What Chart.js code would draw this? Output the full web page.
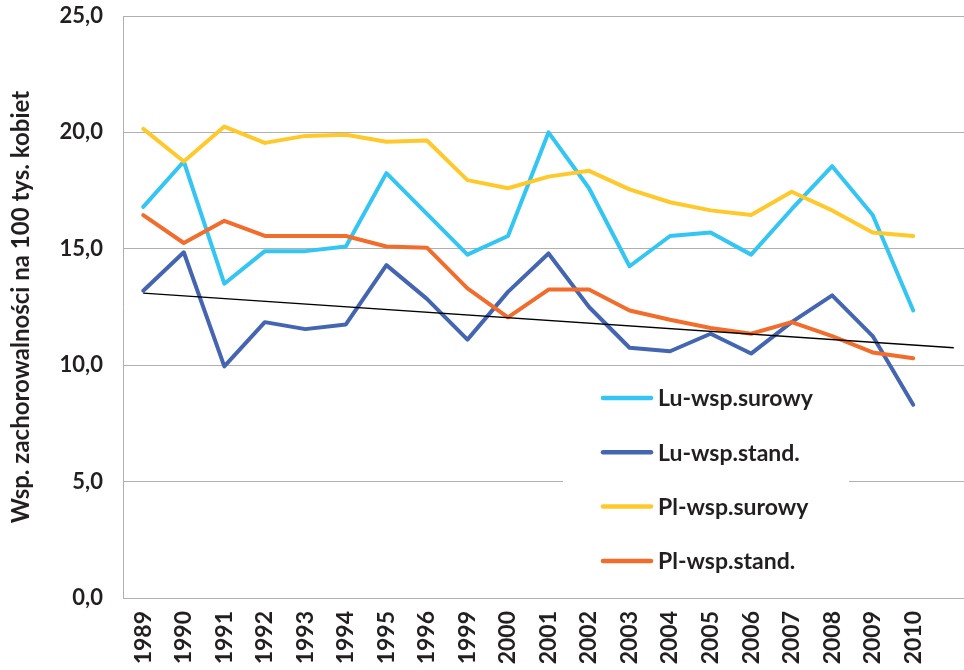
<!DOCTYPE html>
<html lang="pl">
<head>
<meta charset="utf-8">
<title>Wsp. zachorowalności</title>
<script src="https://cdn.jsdelivr.net/npm/chart.js@4.4.1/dist/chart.umd.min.js"></script>
<style>
    html, body { margin: 0; padding: 0; background: #fff; overflow: hidden; }
    #chart { display: block; }
</style>
</head>
<body>
<canvas id="chart" width="980" height="670"></canvas>
<script>
// years on the x axis (1997 and 1998 are missing), plus one empty slot for the trend
const years = ['1989', '1990', '1991', '1992', '1993', '1994', '1995', '1996', '1999', '2000',
    '2001', '2002', '2003', '2004', '2005', '2006', '2007', '2008', '2009', '2010', ''];

const luRaw = [16.8, 18.75, 13.5, 14.9, 14.9, 15.1, 18.25, 16.5, 14.75, 15.55,
    20.0, 17.6, 14.25, 15.55, 15.7, 14.75, 16.7, 18.55, 16.45, 12.35];
const luStd = [13.2, 14.85, 9.95, 11.85, 11.55, 11.75, 14.3, 12.85, 11.1, 13.15,
    14.8, 12.5, 10.75, 10.6, 11.35, 10.5, 11.85, 13.0, 11.25, 8.3];
const plRaw = [20.15, 18.75, 20.25, 19.55, 19.85, 19.9, 19.6, 19.65, 17.95, 17.6,
    18.1, 18.35, 17.55, 17.0, 16.65, 16.45, 17.45, 16.65, 15.7, 15.55];
const plStd = [16.45, 15.25, 16.2, 15.55, 15.55, 15.55, 15.1, 15.05, 13.3, 12.05,
    13.25, 13.25, 12.35, 11.95, 11.6, 11.35, 11.85, 11.25, 10.55, 10.3];

// linear trend of Lu-wsp.stand.: start and end values only
const trendStart = 13.1;
const trendEnd = 10.75;
const trend = years.map((y, i) => i === 0 ? trendStart : (i === years.length - 1 ? trendEnd : null));

const yTicks = [0, 5, 10, 15, 20, 25];

const FONT = 'Lato, "Open Sans", sans-serif';
const TEXT = '#231f20';
const GRID = '#b0b0b0';

function series(label, data, color, order) {
    return {
        label,
        data,
        borderColor: color,
        backgroundColor: color,
        borderWidth: 4,
        pointRadius: 0,
        pointHoverRadius: 0,
        tension: 0,
        borderJoinStyle: 'round',
        borderCapStyle: 'round',
        fill: false,
        order
    };
}

// scale edges are placed by layout.padding only
function noEdgePadding(s) {
    s.paddingTop = 0;
    s.paddingBottom = 0;
    s.paddingLeft = 0;
    s.paddingRight = 0;
}

// legend box drawn inside the plot area, bottom right
const insideLegend = {
    id: 'insideLegend',
    afterDatasetsDraw(chart) {
        const ctx = chart.ctx;
        const items = chart.data.datasets.filter(d => !d.isTrend);
        ctx.save();
        ctx.fillStyle = '#fff';
        ctx.fillRect(563, 372, 286, 218);
        ctx.font = 'bold 23px ' + FONT;
        ctx.textBaseline = 'middle';
        ctx.textAlign = 'left';
        items.forEach((d, i) => {
            const y = 398 + i * 54.3;
            ctx.strokeStyle = d.borderColor;
            ctx.lineWidth = 4.5;
            ctx.lineCap = 'round';
            ctx.beginPath();
            ctx.moveTo(603, y);
            ctx.lineTo(651, y);
            ctx.stroke();
            ctx.fillStyle = TEXT;
            ctx.fillText(d.label, 658, y + 1);
        });
        ctx.restore();
    }
};

new Chart(document.getElementById('chart'), {
    type: 'line',
    data: {
        labels: years,
        datasets: [
            series('Lu-wsp.surowy', luRaw, '#33c5f3', 4),
            series('Lu-wsp.stand.', luStd, '#4465b1', 3),
            series('Pl-wsp.surowy', plRaw, '#ffc92b', 2),
            series('Pl-wsp.stand.', plStd, '#f26d2c', 1),
            {
                label: 'trend',
                isTrend: true,
                data: trend,
                borderColor: '#000',
                borderWidth: 1.3,
                pointRadius: 0,
                spanGaps: true,
                fill: false,
                order: 0
            }
        ]
    },
    options: {
        responsive: false,
        animation: false,
        layout: {
            padding: { top: 16, right: 6, left: 0, bottom: 0 }
        },
        plugins: {
            legend: { display: false },
            tooltip: { enabled: false },
            title: { display: false }
        },
        scales: {
            x: {
                offset: true,
                grid: { display: false, drawTicks: false },
                border: { display: true, color: GRID, width: 1 },
                ticks: {
                    autoSkip: false,
                    minRotation: 90,
                    maxRotation: 90,
                    padding: 13,
                    color: TEXT,
                    font: { family: FONT, size: 23, weight: 'bold' }
                },
                afterFit: s => { s.height = 72; noEdgePadding(s); }
            },
            y: {
                min: 0,
                max: 25,
                afterBuildTicks: s => { s.ticks = yTicks.map(v => ({ value: v })); },
                grid: { color: GRID, lineWidth: 1, drawTicks: false },
                border: { display: true, color: GRID, width: 1 },
                ticks: {
                    padding: 20,
                    color: TEXT,
                    font: { family: FONT, size: 22, weight: 'bold' },
                    callback: v => v.toFixed(1).replace('.', ',')
                },
                title: {
                    display: true,
                    text: 'Wsp. zachorowalności na 100 tys. kobiet',
                    color: TEXT,
                    font: { family: FONT, size: 24, weight: 'bold' },
                    padding: { top: 7, bottom: 0 }
                },
                afterFit: s => { s.width = 123; noEdgePadding(s); }
            }
        }
    },
    plugins: [insideLegend]
});
</script>
</body>
</html>
